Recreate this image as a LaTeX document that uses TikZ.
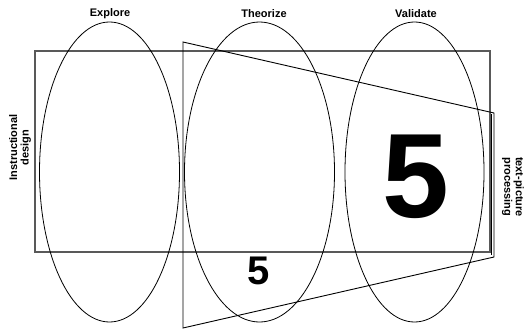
\documentclass[tikz,border=0pt]{standalone}
\usepackage{fontspec}
\setmainfont{Liberation Sans}
\begin{document}
\begin{tikzpicture}[x=1pt,y=-1pt,
  lab/.style={font=\bfseries\fontsize{11}{11.5}\selectfont, align=center, inner sep=0pt},
  oval/.style={draw=black, line width=0.8pt},
  frame/.style={draw=black!65, line width=1.3pt},
  trap/.style={draw=black, line width=0.9pt},
  bigfive/.style={font=\bfseries\fontsize{120}{120}\selectfont, inner sep=0pt},
  smallfive/.style={font=\bfseries\fontsize{40}{40}\selectfont, inner sep=0pt}]
\useasboundingbox (0,0) rectangle (524,329);
% rectangle
\draw[frame] (35,51) rectangle (490,252);
% ellipses
\draw[oval] (109.5,172) ellipse [x radius=70pt, y radius=150pt];
\draw[oval] (259.5,172) ellipse [x radius=75pt, y radius=150pt];
\draw[oval] (414.5,172) ellipse [x radius=69.5pt, y radius=150pt];
% trapezoid
\coordinate (t1) at (183,42);
\coordinate (t2) at (494,113);
\coordinate (t3) at (494,257);
\coordinate (t4) at (183,328);
\draw[trap] (t1) -- (t2) -- (t3) -- (t4) -- cycle;
\coordinate (m1) at (491.5,114);
\coordinate (m2) at (491.5,254.5);
\draw[trap] (m1) -- (m2);
% labels
\node[lab] (explore) at (110,13.5) {Explore};
\node[lab] (theorize) at (264,13.5) {Theorize};
\node[lab] (validate) at (416,13.5) {Validate};
\node[lab, rotate=90] (instr) at (20,147.5) {Instructional\\design};
\node[lab, rotate=-90] (textpic) at (513,187) {text-picture\\processing};
% fives
\node[bigfive] (big) at (415.5,177) {5};
\node[smallfive] (small) at (258.5,270.5) {5};
\end{tikzpicture}
\end{document}
